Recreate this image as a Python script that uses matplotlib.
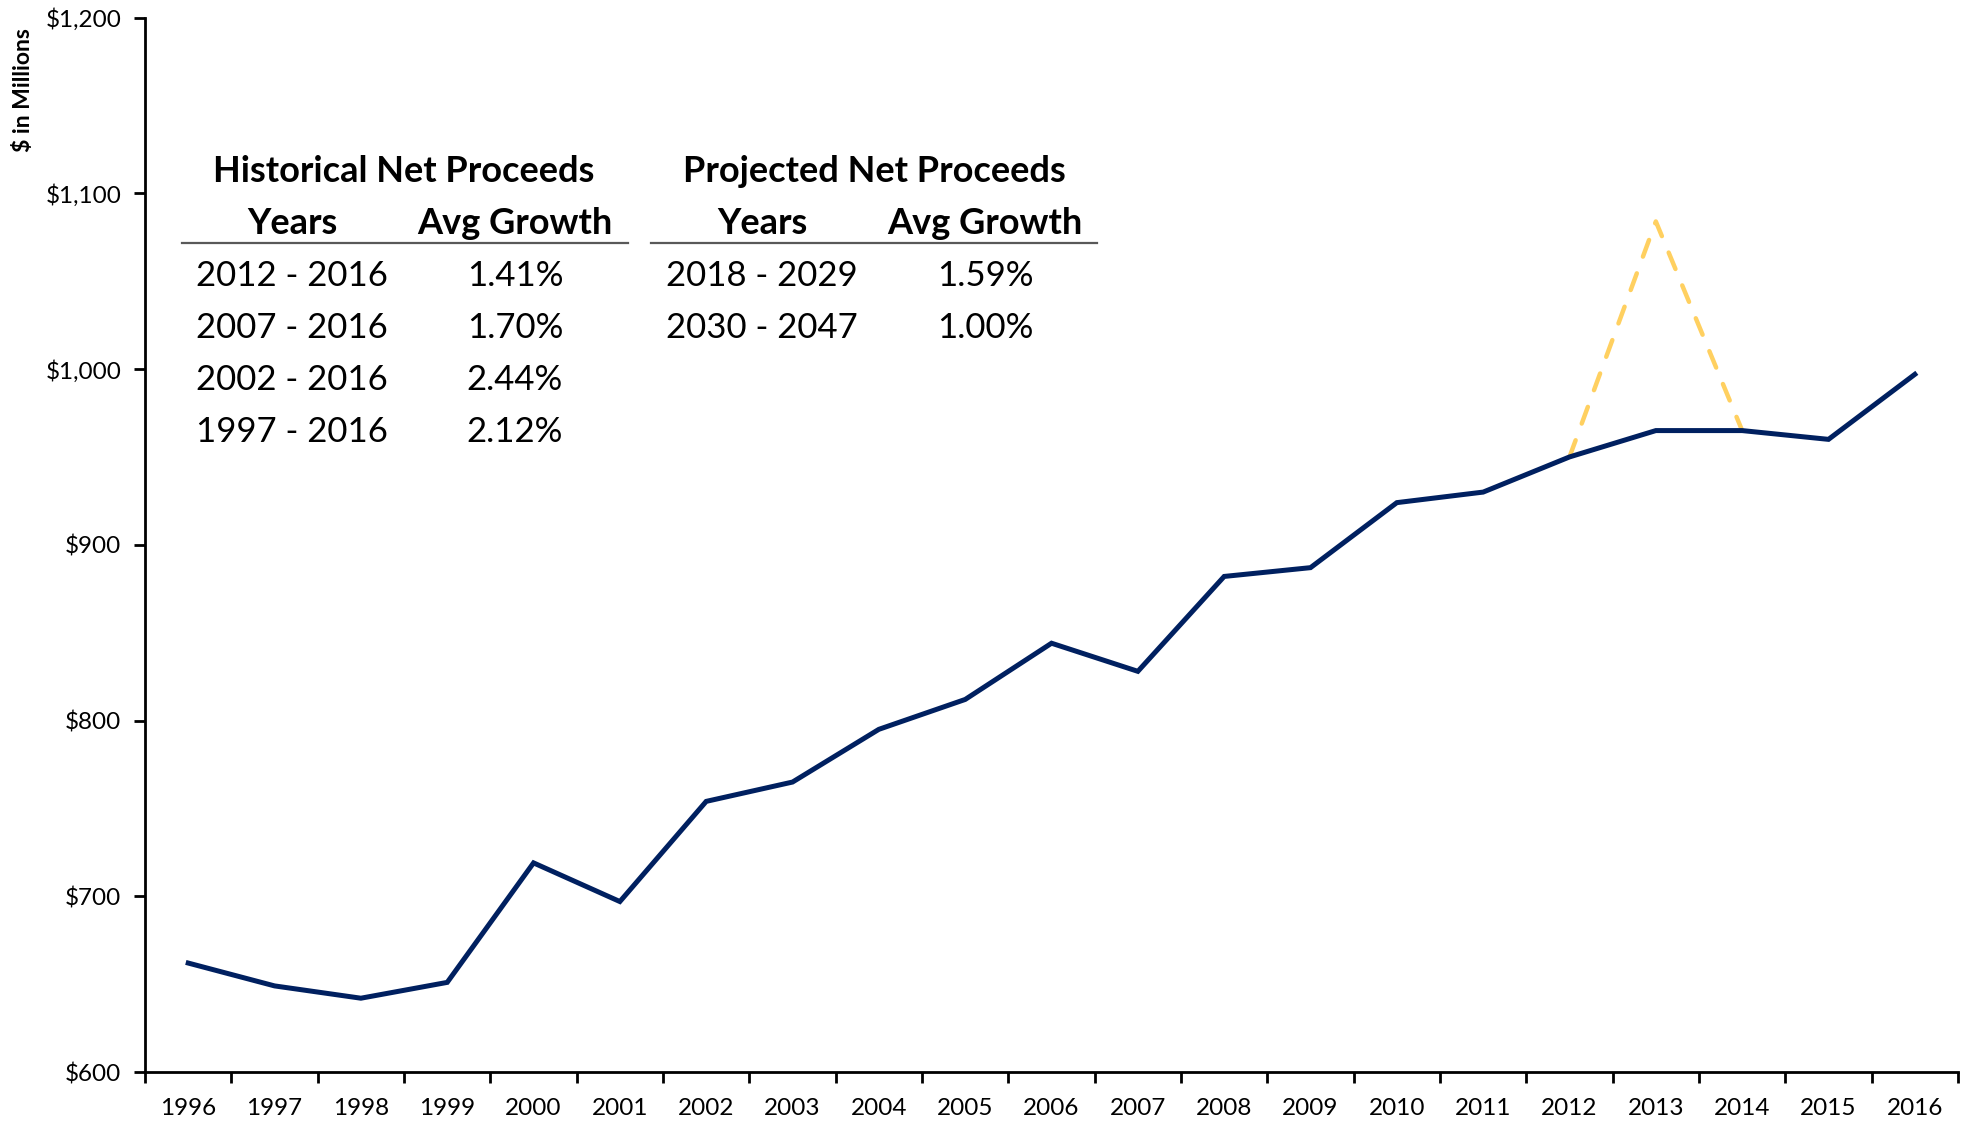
import matplotlib
matplotlib.use('Agg')
import matplotlib.pyplot as plt
from matplotlib.ticker import FuncFormatter, FixedLocator

plt.rcParams['font.family'] = ['Lato', 'DejaVu Sans']

years = [str(y) for y in range(1996, 2017)]
proceeds = [662, 649, 642, 651, 719, 697, 754, 765, 795, 812, 844, 828,
            882, 887, 924, 930, 950, 965, 965, 960, 997]
# dashed spike over 2012-2014
spike_years = ['2012', '2013', '2014']
spike_vals = [950, 1084, 965]

hist_rows = [('2012 - 2016', '1.41%'), ('2007 - 2016', '1.70%'),
             ('2002 - 2016', '2.44%'), ('1997 - 2016', '2.12%')]
proj_rows = [('2018 - 2029', '1.59%'), ('2030 - 2047', '1.00%')]

navy = '#002060'
yellow = '#FFD060'

fig = plt.figure(figsize=(19.71, 11.21), dpi=100)
ax = fig.add_axes([0.0736, 0.0437, 0.9198, 0.9406])

x = list(range(len(years)))
sx = [years.index(y) for y in spike_years]
ax.plot(sx, spike_vals, color=yellow, lw=3.2, ls=(0, (4, 4)),
        dash_capstyle='round', zorder=2)
ax.plot(x, proceeds, color=navy, lw=3.6, solid_joinstyle='miter', zorder=3)

ax.set_xlim(-0.5, len(years) - 0.5)
ax.set_ylim(600, 1200)
ax.set_yticks(range(600, 1201, 100))
ax.yaxis.set_major_formatter(FuncFormatter(lambda v, p: f'${v:,.0f}'))

ax.xaxis.set_major_locator(FixedLocator([i - 0.5 for i in range(len(years) + 1)]))
ax.xaxis.set_major_formatter(FuncFormatter(lambda v, p: ''))
ax.xaxis.set_minor_locator(FixedLocator(x))
ax.set_xticklabels(years, minor=True)
ax.tick_params(axis='x', which='minor', length=0, pad=19, labelsize=17.5)
ax.tick_params(axis='x', which='major', length=8, width=2, direction='out')
ax.tick_params(axis='y', length=8, width=2, pad=9, labelsize=17.5)

for s in ['top', 'right']:
    ax.spines[s].set_visible(False)
for s in ['left', 'bottom']:
    ax.spines[s].set_linewidth(2)

fig.text(0.0117, 0.92, '$ in Millions', rotation=90, fontsize=16.5,
         fontweight='bold', ha='center', va='center')


def ypix(p):
    return 1 - p / 1121


def xpix(p):
    return p / 1971


def table(title, rows, cx, c1, c2, l0, l1):
    fig.text(xpix(cx), ypix(172), title, fontsize=26, fontweight='bold',
             ha='center', va='center')
    fig.text(xpix(c1), ypix(223), 'Years', fontsize=26, fontweight='bold',
             ha='center', va='center')
    fig.text(xpix(c2), ypix(223), 'Avg Growth', fontsize=26, fontweight='bold',
             ha='center', va='center')
    fig.add_artist(plt.Line2D([xpix(l0), xpix(l1)], [ypix(243), ypix(243)],
                              color='#595959', lw=1.6))
    for i, (a, b) in enumerate(rows):
        yy = ypix(276 + i * 52)
        fig.text(xpix(c1), yy, a, fontsize=25, ha='center', va='center')
        fig.text(xpix(c2), yy, b, fontsize=25, ha='center', va='center')


table('Historical Net Proceeds', hist_rows, 404, 292, 515, 182, 628)
table('Projected Net Proceeds', proj_rows, 874, 762, 985, 651, 1097)

fig.savefig('out.png', dpi=100)
